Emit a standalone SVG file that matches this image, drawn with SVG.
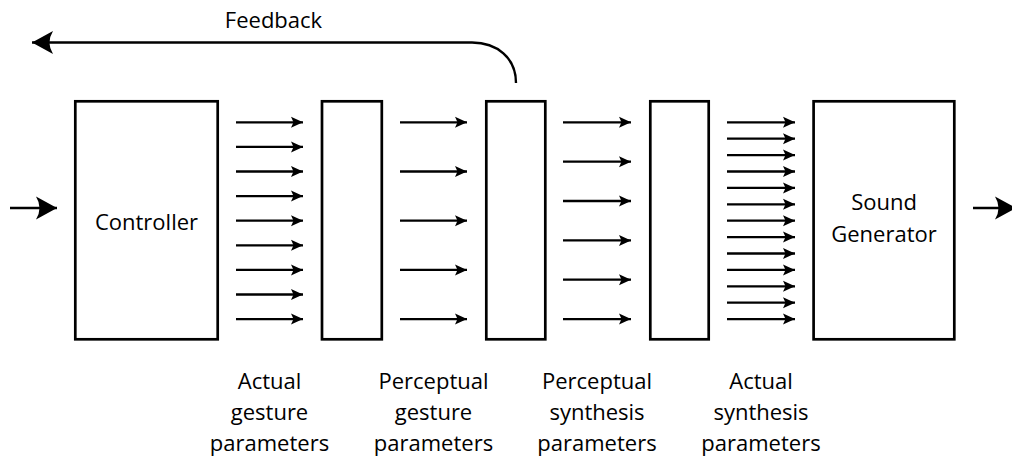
<svg xmlns="http://www.w3.org/2000/svg" width="1012" height="460" viewBox="0 0 1012 460">
  <style>
    .box { fill: #fff; stroke: #000; stroke-width: 2.7; }
    .lbl { font-family: "Open Sans", "Noto Sans", "DejaVu Sans", sans-serif; font-size: 22px; fill: #000; text-anchor: middle; }
    .par { stroke: #000; stroke-width: 2.3; fill: none; marker-end: url(#small); }
    .big { stroke: #000; stroke-width: 2.4; fill: none; marker-end: url(#large); }
  </style>
  <defs>
    <marker id="small" markerUnits="userSpaceOnUse" markerWidth="14" markerHeight="12" refX="12" refY="5.5" orient="auto" overflow="visible">
      <path d="M0,0 L12,5.5 L0,11 L2.5,5.5 Z" fill="#000"/>
    </marker>
    <marker id="large" markerUnits="userSpaceOnUse" markerWidth="24" markerHeight="24" refX="21" refY="11.5" orient="auto" overflow="visible">
      <path d="M0,0 L21,11.5 L0,23 Q7,11.5 0,0 Z" fill="#000"/>
    </marker>
  </defs>

  <!-- processing stages -->
  <g id="controller">
    <rect class="box" x="75.3" y="101.3" width="142.4" height="238"/>
    <text class="lbl" x="146.5" y="230">Controller</text>
  </g>
  <g id="gesture-mapping">
    <rect class="box" x="322" y="101.3" width="59.8" height="238"/>
  </g>
  <g id="perceptual-mapping">
    <rect class="box" x="486.3" y="101.3" width="59" height="238"/>
  </g>
  <g id="synthesis-mapping">
    <rect class="box" x="650.3" y="101.3" width="58.4" height="238"/>
  </g>
  <g id="sound-generator">
    <rect class="box" x="813.6" y="101.3" width="140.7" height="238"/>
    <text class="lbl" x="884" y="209.5">Sound</text>
    <text class="lbl" x="884" y="241.5">Generator</text>
  </g>

  <!-- parameter streams and signal flow -->
  <g id="connectors">
    <!-- actual gesture parameters: 9 -->
    <g>
      <line class="par" x1="236" y1="122.3" x2="303" y2="122.3"/>
      <line class="par" x1="236" y1="146.9" x2="303" y2="146.9"/>
      <line class="par" x1="236" y1="171.5" x2="303" y2="171.5"/>
      <line class="par" x1="236" y1="196.1" x2="303" y2="196.1"/>
      <line class="par" x1="236" y1="220.7" x2="303" y2="220.7"/>
      <line class="par" x1="236" y1="245.3" x2="303" y2="245.3"/>
      <line class="par" x1="236" y1="269.9" x2="303" y2="269.9"/>
      <line class="par" x1="236" y1="294.5" x2="303" y2="294.5"/>
      <line class="par" x1="236" y1="319.1" x2="303" y2="319.1"/>
    </g>
    <!-- perceptual gesture parameters: 5 -->
    <g>
      <line class="par" x1="400" y1="122.3" x2="467" y2="122.3"/>
      <line class="par" x1="400" y1="171.5" x2="467" y2="171.5"/>
      <line class="par" x1="400" y1="220.7" x2="467" y2="220.7"/>
      <line class="par" x1="400" y1="269.9" x2="467" y2="269.9"/>
      <line class="par" x1="400" y1="319.1" x2="467" y2="319.1"/>
    </g>
    <!-- perceptual synthesis parameters: 6 -->
    <g>
      <line class="par" x1="563" y1="122.3" x2="631" y2="122.3"/>
      <line class="par" x1="563" y1="161.7" x2="631" y2="161.7"/>
      <line class="par" x1="563" y1="201.0" x2="631" y2="201.0"/>
      <line class="par" x1="563" y1="240.4" x2="631" y2="240.4"/>
      <line class="par" x1="563" y1="279.7" x2="631" y2="279.7"/>
      <line class="par" x1="563" y1="319.1" x2="631" y2="319.1"/>
    </g>
    <!-- actual synthesis parameters: 13 -->
    <g>
      <line class="par" x1="727" y1="122.3" x2="795" y2="122.3"/>
      <line class="par" x1="727" y1="138.7" x2="795" y2="138.7"/>
      <line class="par" x1="727" y1="155.1" x2="795" y2="155.1"/>
      <line class="par" x1="727" y1="171.5" x2="795" y2="171.5"/>
      <line class="par" x1="727" y1="187.9" x2="795" y2="187.9"/>
      <line class="par" x1="727" y1="204.3" x2="795" y2="204.3"/>
      <line class="par" x1="727" y1="220.7" x2="795" y2="220.7"/>
      <line class="par" x1="727" y1="237.1" x2="795" y2="237.1"/>
      <line class="par" x1="727" y1="253.5" x2="795" y2="253.5"/>
      <line class="par" x1="727" y1="269.9" x2="795" y2="269.9"/>
      <line class="par" x1="727" y1="286.3" x2="795" y2="286.3"/>
      <line class="par" x1="727" y1="302.7" x2="795" y2="302.7"/>
      <line class="par" x1="727" y1="319.1" x2="795" y2="319.1"/>
    </g>
    <!-- input and output -->
    <line class="big" x1="10" y1="208" x2="57" y2="208"/>
    <line class="big" x1="973" y1="208" x2="1016" y2="208"/>
    <!-- feedback loop -->
    <path class="big" d="M516,83 C516,58 497,42.5 472,42.5 L32,42.5"/>
  </g>

  <!-- labels -->
  <g id="labels">
    <text class="lbl" x="273.5" y="28.3">Feedback</text>
    <text class="lbl" x="269.5" y="388.5">Actual</text>
    <text class="lbl" x="269.5" y="420">gesture</text>
    <text class="lbl" x="269.5" y="451">parameters</text>
    <text class="lbl" x="433.5" y="388.5">Perceptual</text>
    <text class="lbl" x="433.5" y="420">gesture</text>
    <text class="lbl" x="433.5" y="451">parameters</text>
    <text class="lbl" x="597" y="388.5">Perceptual</text>
    <text class="lbl" x="597" y="420">synthesis</text>
    <text class="lbl" x="597" y="451">parameters</text>
    <text class="lbl" x="761" y="388.5">Actual</text>
    <text class="lbl" x="761" y="420">synthesis</text>
    <text class="lbl" x="761" y="451">parameters</text>
  </g>
</svg>
